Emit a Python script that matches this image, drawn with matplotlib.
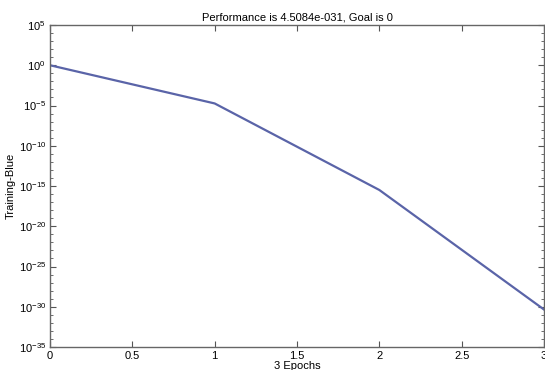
import numpy as np
import matplotlib.pyplot as plt
from matplotlib.ticker import FixedLocator, NullFormatter

plt.rcParams['font.family'] = ['Liberation Sans', 'DejaVu Sans']
plt.rcParams['mathtext.default'] = 'regular'

epochs = [0, 1, 2, 3]
perf = [1.0, 1.8e-5, 3.2e-16, 4.5084e-31]

xticks = [0, 0.5, 1, 1.5, 2, 2.5, 3]
xtick_labels = ['0', '0.5', '1', '1.5', '2', '2.5', '3']
ydecades = [5, 0, -5, -10, -15, -20, -25, -30, -35]

fig = plt.figure(figsize=(5.45, 3.7), dpi=100)
ax = fig.add_axes([50 / 545, 23 / 370, 494 / 545, 322 / 370])

ax.semilogy(epochs, perf, color='#5a64a8', lw=1.6)

ax.set_xlim(0, 3)
ax.set_ylim(1e-35, 1e5)
ax.set_xticks(xticks)
ax.set_xticklabels(xtick_labels)
ax.yaxis.set_major_locator(FixedLocator([10.0 ** d for d in ydecades]))
ax.yaxis.set_minor_locator(FixedLocator([10.0 ** d for d in range(-35, 6)]))
ax.yaxis.set_minor_formatter(NullFormatter())
ax.set_yticklabels([f'$10^{{{d}}}$' for d in ydecades])

ax.tick_params(which='both', direction='in', top=True, right=True,
               labelsize=8, color='#555555', pad=3)
ax.tick_params(which='major', length=4)
ax.tick_params(which='minor', length=2)
for s in ax.spines.values():
    s.set_color('#666666')
    s.set_linewidth(1.0)

ax.set_title('Performance is 4.5084e-031, Goal is 0', fontsize=8, pad=3)
ax.set_xlabel('3 Epochs', fontsize=8, labelpad=0)
ax.set_ylabel('Training-Blue', fontsize=8, labelpad=2)

fig.savefig('out.png', dpi=100)
